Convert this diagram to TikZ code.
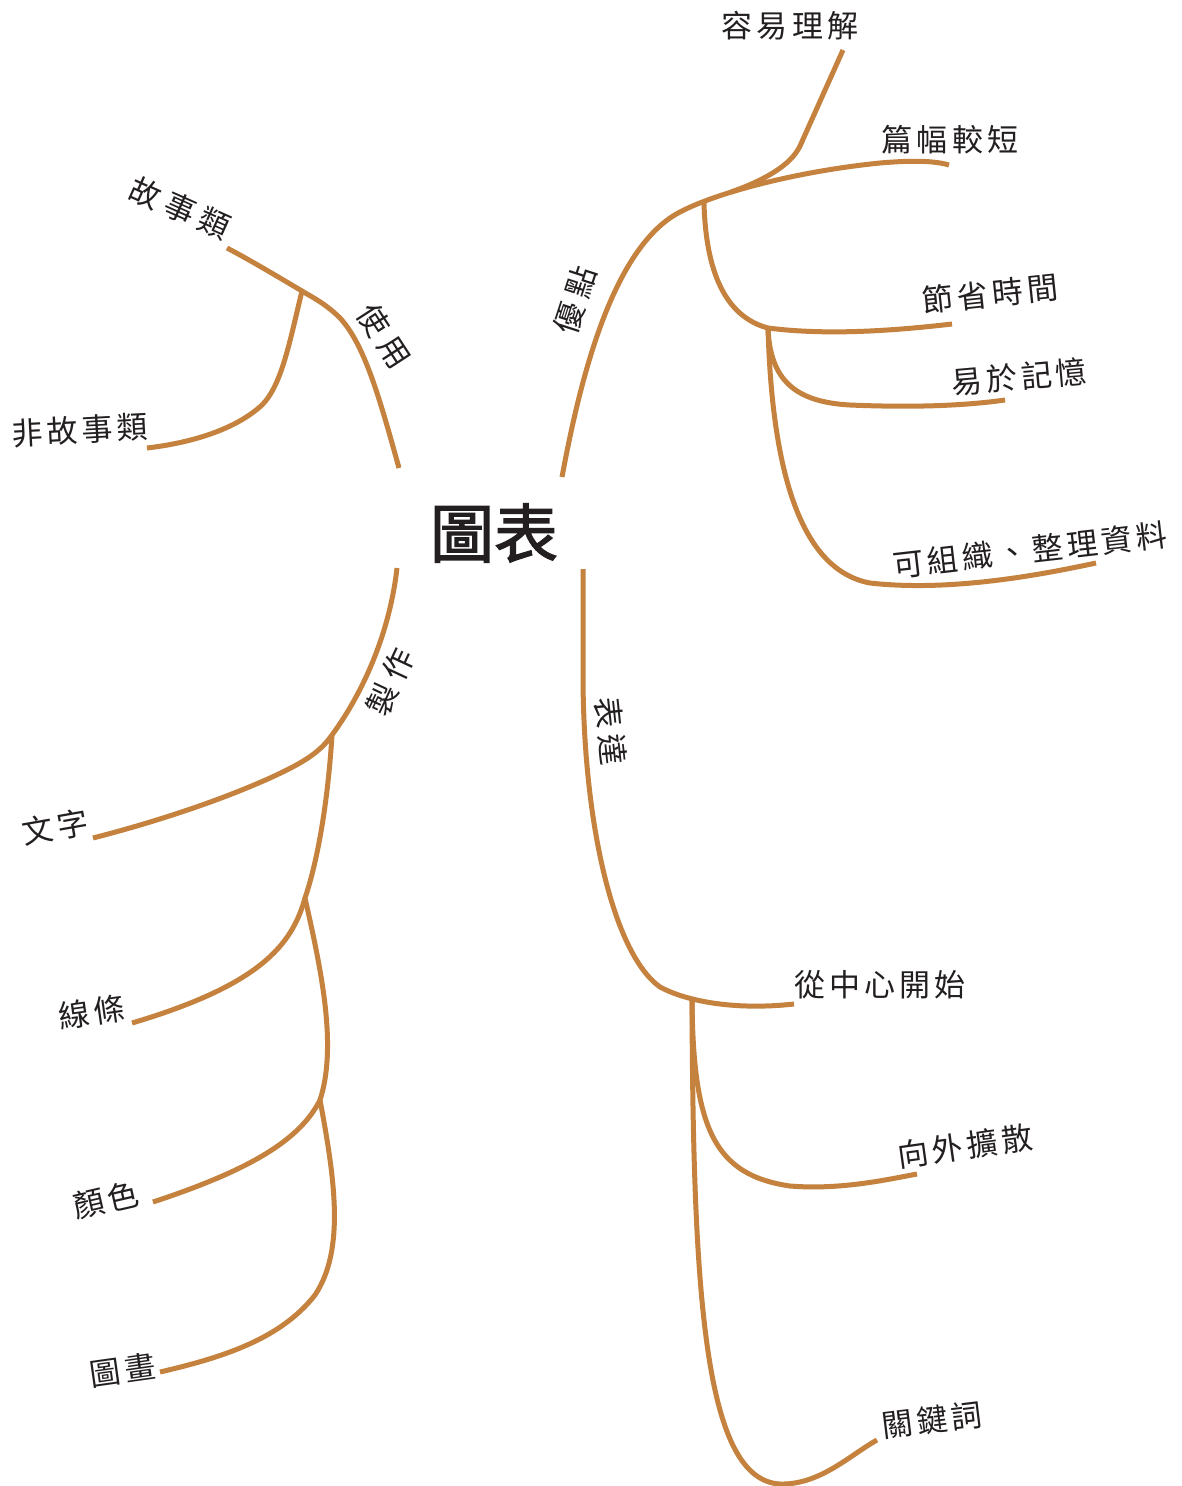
\documentclass[tikz,border=0pt]{standalone}
\usepackage{fontspec}
\setmainfont{Noto Sans CJK TC}
\newfontfamily\lbl[LetterSpace=13]{Noto Sans CJK TC}
\newfontfamily\blbl[LetterSpace=22]{Noto Sans CJK TC}
\newfontfamily\hubfont[FakeBold=2]{Noto Sans CJK TC}
\definecolor{branch}{RGB}{196,130,62}
\definecolor{ink}{RGB}{35,31,32}
\tikzset{
  br/.style={draw=branch, line width=5pt},
  leaf/.style={font=\lbl\fontsize{31}{36}\selectfont, text=ink, inner sep=0pt},
  twig/.style={font=\blbl\fontsize{31}{36}\selectfont, text=ink, inner sep=0pt},
  hub/.style={font=\hubfont\fontsize{64}{72}\selectfont, text=ink, inner sep=0pt}
}
\begin{document}
\begin{tikzpicture}[x=1pt,y=-1pt]
\useasboundingbox (0,0) rectangle (1181,1486);
\fill[white] (0,0) rectangle (1181,1486);

% coordinates
\coordinate (u0) at (399,468);
\coordinate (uj) at (302,291);
\coordinate (u1) at (227,248);
\coordinate (u2) at (147,448);

\coordinate (a0) at (562,477);
\coordinate (aj) at (670,218);
\coordinate (ak) at (731,192);
\coordinate (ad) at (704,203);
\coordinate (a1) at (843,50);
\coordinate (a2) at (949,165);
\coordinate (aj2) at (768,328);
\coordinate (a3) at (952,324);
\coordinate (a4) at (1005,400);
\coordinate (a5) at (1096,563);

\coordinate (m0) at (397,568);
\coordinate (mj) at (332,735);
\coordinate (m1) at (93,838);
\coordinate (mk) at (305,898);
\coordinate (m2) at (132,1023);
\coordinate (ml) at (320,1100);
\coordinate (m3) at (153,1202);
\coordinate (m4) at (160,1372);

\coordinate (e0) at (583,569);
\coordinate (ej) at (692,999);
\coordinate (e1) at (794,1004);
\coordinate (e2) at (917,1174);
\coordinate (e3) at (877,1440);

% 使用
\draw[br] (u0) .. controls (380,400) and (365,345) .. (340,318) .. controls (325,303) and (310,296) .. (uj) .. controls (280,278) and (250,260) .. (u1);
\draw[br] (uj) .. controls (290,340) and (282,385) .. (262,405) .. controls (235,430) and (190,443) .. (u2);

% 優點
\draw[br] (a0) .. controls (580,380) and (610,260) .. (aj) .. controls (700,197) and (790,172) .. (880,163) .. controls (915,160) and (935,161) .. (a2);
\draw[br] (ak) .. controls (765,180) and (791,165) .. (800,146) -- (a1);
\draw[br] (ad) .. controls (706,280) and (730,318) .. (aj2) .. controls (830,336) and (900,330) .. (a3);
\draw[br] (aj2) .. controls (770,380) and (795,402) .. (850,405) .. controls (920,408) and (970,405) .. (a4);
\draw[br] (aj2) .. controls (772,470) and (800,570) .. (870,583) .. controls (950,592) and (1040,575) .. (a5);

% 製作
\draw[br] (m0) .. controls (390,630) and (365,690) .. (mj) .. controls (320,752) and (305,762) .. (270,778) .. controls (210,805) and (140,826) .. (m1);
\draw[br] (mj) .. controls (328,800) and (318,860) .. (mk) .. controls (320,965) and (338,1045) .. (ml);
\draw[br] (mk) .. controls (292,945) and (260,985) .. (m2);
\draw[br] (ml) .. controls (300,1140) and (250,1170) .. (m3);
\draw[br] (ml) .. controls (335,1180) and (345,1250) .. (315,1295) .. controls (280,1340) and (220,1358) .. (m4);

% 表達
\draw[br] (e0) -- (583,680) .. controls (584,830) and (615,955) .. (660,987) .. controls (690,1003) and (740,1010) .. (e1);
\draw[br] (ej) .. controls (693,1130) and (715,1175) .. (790,1186) .. controls (840,1190) and (885,1180) .. (e2);
\draw[br] (ej) .. controls (693,1300) and (705,1480) .. (780,1484) .. controls (820,1485) and (850,1455) .. (e3);

% labels
\node[hub] (root) at (494,533) {圖表};
\node[twig, rotate=-57] (use) at (384,336) {使用};
\node[twig, rotate=-24] (story) at (180,208) {故事類};
\node[leaf, rotate=3] (nstory) at (80,430) {非故事類};
\node[twig, rotate=72] (adv) at (575,300) {優點};
\node[leaf] (easy) at (790,26) {容易理解};
\node[leaf] (short) at (950,140) {篇幅較短};
\node[leaf, rotate=6] (time) at (990,294) {節省時間};
\node[leaf, rotate=5] (mem) at (1019,377) {易於記憶};
\node[leaf, rotate=6.5] (org) at (1030,550) {可組織、整理資料};
\node[twig, rotate=65] (make) at (390,682) {製作};
\node[leaf, rotate=10] (word) at (55,827) {文字};
\node[leaf, rotate=8] (line) at (92,1012) {線條};
\node[leaf, rotate=13] (color) at (106,1200) {顏色};
\node[leaf, rotate=8] (draw) at (123,1370) {圖畫};
\node[twig, rotate=-84] (expr) at (611,731) {表達};
\node[leaf] (center) at (880,985) {從中心開始};
\node[leaf, rotate=8] (out) at (965,1146) {向外擴散};
\node[leaf, rotate=7] (key) at (932,1420) {關鍵詞};
\end{tikzpicture}
\end{document}
